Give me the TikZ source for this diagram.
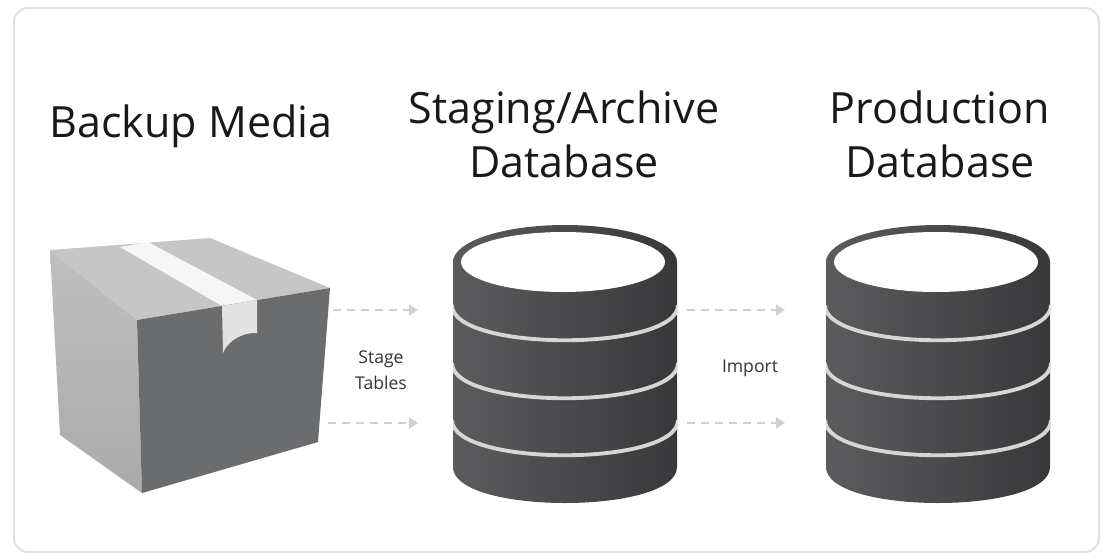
\documentclass[tikz,border=0pt]{standalone}
\usepackage{fontspec}
\setmainfont{Open Sans}
\usepackage{tikz}
\usetikzlibrary{positioning,calc,arrows.meta}
\definecolor{boxtop}{RGB}{198,198,198}
\definecolor{boxside}{RGB}{170,170,170}
\definecolor{boxfront}{RGB}{107,108,110}
\definecolor{tapewhite}{RGB}{246,246,246}
\definecolor{tapeshade}{RGB}{226,226,226}
\definecolor{dbdark}{RGB}{56,56,58}
\definecolor{dblight}{RGB}{92,92,94}
\definecolor{dbline}{RGB}{214,214,214}
\definecolor{flowgray}{RGB}{208,208,208}
\definecolor{framegray}{RGB}{226,226,226}

\tikzset{
  heading/.style={font=\fontsize{24.5}{30}\selectfont,anchor=base,text=black!90},
  smalllbl/.style={font=\fontsize{10}{14.5}\selectfont,align=center,text=black!80},
  flow/.style={draw=flowgray,line width=1.4pt,dash pattern=on 4.5pt off 3.5pt,
    -{Triangle[length=5pt,width=6pt]}},
}

% one database stack, centred on x = #1
\newcommand{\dbstack}[1]{%
  \shade[left color=dblight,right color=dbdark]
    ({#1-112},262) -- ({#1-112},467)
    .. controls ({#1-112},515) and ({#1+112},515) .. ({#1+112},467)
    -- ({#1+112},262) -- cycle;
  \shade[left color=dblight,right color=dbdark]
    (#1,262) ellipse[x radius=112,y radius=37];
  \fill[white] ({#1-2},262) ellipse[x radius=102,y radius=30];
  \begin{scope}
    \clip ({#1-112},262) rectangle ({#1+112},520);
    \foreach \yb in {305,363,420}
      \draw[dbline,line width=2.2pt]
        ({#1-113},\yb) .. controls ({#1-113},{\yb+47}) and ({#1+113},{\yb+47}) .. ({#1+113},\yb);
  \end{scope}
}

\begin{document}
\begin{tikzpicture}[x=0.02cm,y=-0.02cm]
  \useasboundingbox (0,0) rectangle (1110,559);
  \draw[framegray,line width=1.2pt,rounded corners=8pt] (14,8) rectangle (1099,552);

  % the box
  \shade[top color=boxside!75!white,bottom color=boxside]
    (50,250) -- (137,320) -- (142,493) -- (60,435) -- cycle;
  \fill[boxtop] (50,250) -- (210,238) -- (330,288) -- (137,320) -- cycle;
  \fill[tapewhite] (120,247) -- (148,242) -- (257,300) -- (222,306) -- cycle;
  \fill[boxfront] (137,320) -- (330,288) -- (318,442) -- (142,493) -- cycle;
  \fill[tapeshade] (222,306) -- (223,353)
    .. controls (228,340) and (244,332) .. (257,333) -- (257,300) -- cycle;

  % titles
  \node[heading] (mediat) at (191,137) {Backup Media};
  \node[heading] (stgt1) at (564,123) {Staging/Archive};
  \node[heading] (stgt2) at (564,177) {Database};
  \node[heading] (prodt1) at (940,123) {Production};
  \node[heading] (prodt2) at (940,177) {Database};

  % databases
  \dbstack{565}
  \dbstack{938}

  % transfers
  \coordinate (m1) at (333,310);
  \coordinate (s1) at (418,310);
  \coordinate (m2) at (328,423);
  \coordinate (s2) at (418,423);
  \coordinate (p1) at (687,310);
  \coordinate (q1) at (785,310);
  \coordinate (p2) at (687,423);
  \coordinate (q2) at (785,423);
  \draw[flow] (m1) -- (s1);
  \draw[flow] (m2) -- (s2);
  \draw[flow] (p1) -- (q1);
  \draw[flow] (p2) -- (q2);
  \node[smalllbl] (stage) at (381,370) {Stage\\Tables};
  \node[smalllbl] (imp) at (750,368) {Import};
\end{tikzpicture}
\end{document}
